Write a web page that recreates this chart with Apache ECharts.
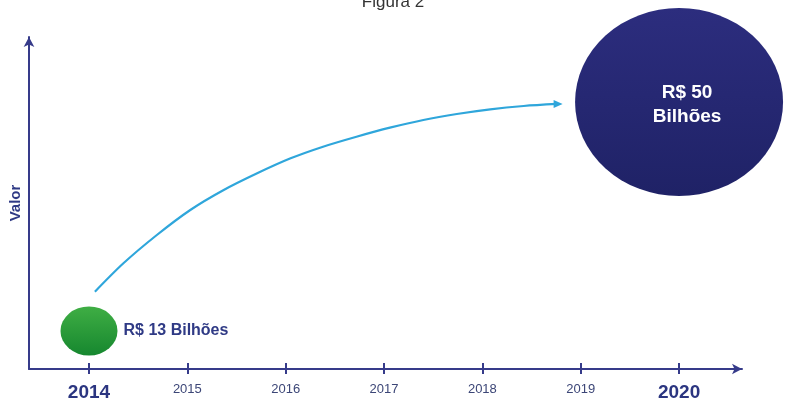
<!DOCTYPE html>
<html>
<head>
<meta charset="utf-8">
<script src="https://cdn.jsdelivr.net/npm/echarts@6/dist/echarts.min.js"></script>
<style>html,body{margin:0;padding:0;background:#fff;}#c{width:786px;height:403px;}</style>
</head>
<body>
<div id="c"></div>
<script>
// ---- data ----
const years = [2014, 2015, 2016, 2017, 2018, 2019, 2020];
const highlightYears = [2014, 2020];
const startPoint = [2014, 13];
const endPoint = [2020, 50];
const startLabel = 'R$ 13 Bilhões';
const endLabel = 'R$ 50\nBilhões';
const curveYears = [2014.06, 2014.35, 2014.69, 2015.03, 2015.37, 2015.71, 2016.05, 2016.38,
  2016.72, 2017.06, 2017.40, 2017.74, 2018.08, 2018.42, 2018.76];
const curveValues = [19.35, 23.94, 28.51, 32.55, 35.78, 38.48, 40.9, 42.78,
  44.39, 45.85, 47.09, 48.06, 48.82, 49.35, 49.68];
const yAxisName = 'Valor';
const titleText = 'Figura 2';

const navy = '#363b8a';
const chart = echarts.init(document.getElementById('c'), null, {renderer: 'canvas'});
const curve = curveYears.map((x, i) => [x, curveValues[i]]);
const FONT = 'Liberation Sans, Arial';

chart.setOption({
  animation: false,
  title: {
    text: titleText, left: 'center', top: -11,
    textStyle: {fontFamily: FONT, fontSize: 17, fontWeight: 'normal', color: '#333'}
  },
  grid: {left: 29, right: 44, top: 37, bottom: 34, containLabel: false},
  xAxis: [{
    type: 'value', min: 2013.39, max: 2020.64,
    splitLine: {show: false},
    axisLine: {show: true, lineStyle: {color: navy, width: 2}, symbol: ['none', 'arrow'], symbolSize: [8, 10], symbolOffset: [0, 0]},
    axisTick: {show: true, inside: false, length: 5, lineStyle: {color: navy, width: 2}, customValues: years},
    axisLabel: {
      customValues: years, margin: 14,
      formatter: v => highlightYears.includes(v) ? '{b|' + v + '}' : '{n|' + v + '}',
      rich: {
        b: {fontFamily: FONT, fontSize: 19, fontWeight: 'bold', color: '#2b3580', padding: [0, 0, 0, 0]},
        n: {fontFamily: FONT, fontSize: 13, color: '#3c4677'}
      }
    }
  }, {
    type: 'value', min: 2013.39, max: 2020.64, position: 'bottom',
    splitLine: {show: false}, axisLine: {show: false}, axisLabel: {show: false},
    axisTick: {show: true, inside: true, length: 6, lineStyle: {color: navy, width: 2}, customValues: years}
  }],
  yAxis: {
    type: 'value', min: 6.86, max: 60.5,
    name: yAxisName, nameLocation: 'middle', nameGap: 6, nameRotate: 90,
    nameTextStyle: {fontFamily: FONT, fontSize: 15, fontWeight: 'bold', color: '#2f3a85'},
    splitLine: {show: false},
    axisTick: {show: false},
    axisLabel: {show: false},
    axisLine: {show: true, lineStyle: {color: navy, width: 2}, symbol: ['none', 'arrow'], symbolSize: [8, 10], symbolOffset: [0, 0]}
  },
  series: [
    {
      type: 'line', data: curve, smooth: 0.3, symbol: 'none',
      lineStyle: {color: '#2fa6db', width: 2.2}, z: 3
    },
    {
      type: 'scatter', data: [curve[curve.length - 1]], symbol: 'triangle', symbolSize: [8, 9], symbolRotate: -90,
      symbolOffset: [1, 0], itemStyle: {color: '#2fa6db', opacity: 1}, z: 4
    },
    {
      type: 'scatter', data: [startPoint], symbol: 'circle', symbolSize: [57, 49],
      itemStyle: {opacity: 1, color: new echarts.graphic.LinearGradient(0, 0, 0, 1, [{offset: 0, color: '#3fae44'}, {offset: 1, color: '#16872f'}])},
      label: {show: true, position: 'right', distance: 6, formatter: startLabel,
        fontFamily: FONT, fontSize: 16, fontWeight: 'bold', color: '#2f3a85'},
      z: 5
    },
    {
      type: 'scatter', data: [endPoint], symbol: 'circle', symbolSize: [208, 188],
      itemStyle: {opacity: 1, color: new echarts.graphic.LinearGradient(0, 0, 0, 1, [{offset: 0, color: '#2c2d7e'}, {offset: 1, color: '#1f2266'}])},
      label: {show: true, position: 'inside', offset: [8, 3], formatter: endLabel, lineHeight: 24, align: 'center',
        fontFamily: FONT, fontSize: 19, fontWeight: 'bold', color: '#ffffff'},
      z: 5
    }
  ]
});
</script>
</body>
</html>
